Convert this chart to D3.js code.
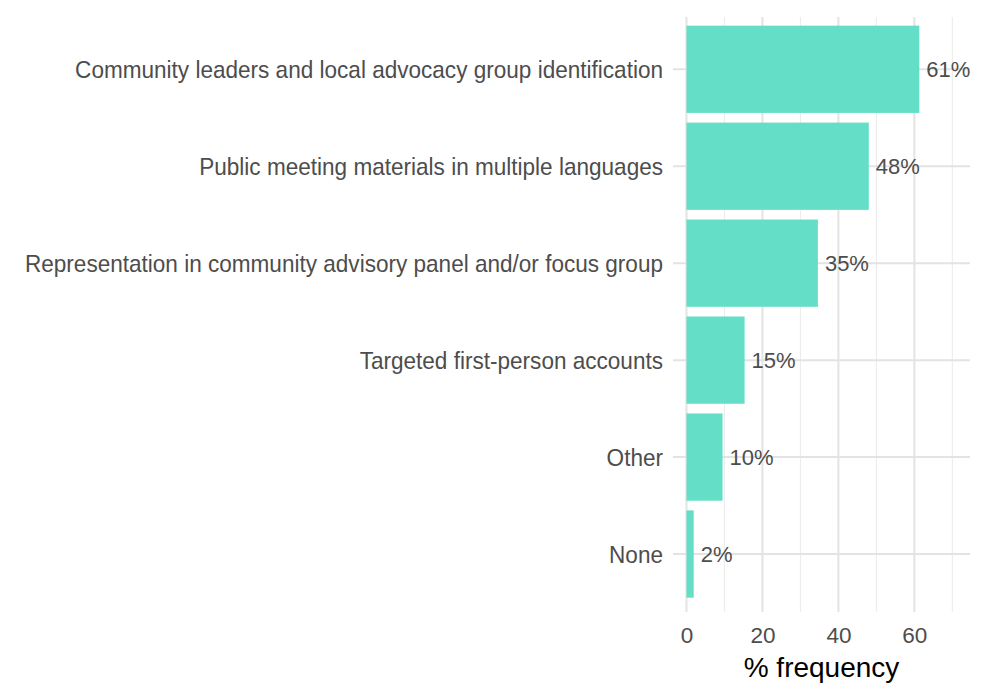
<!DOCTYPE html>
<html>
<head>
<meta charset="utf-8">
<script src="https://cdn.jsdelivr.net/npm/d3@7"></script>
<style>
  body { margin: 0; background: #fff; }
  text { font-family: "Liberation Sans", Arial, sans-serif; }
</style>
</head>
<body>
<div id="chart"></div>
<script>
// data
const categories = [
  "Community leaders and local advocacy group identification",
  "Public meeting materials in multiple languages",
  "Representation in community advisory panel and/or focus group",
  "Targeted first-person accounts",
  "Other",
  "None"
];
const values = [61.3, 48.0, 34.6, 15.3, 9.5, 1.9];
const valueLabels = ["61%", "48%", "35%", "15%", "10%", "2%"];
const xTicks = [0, 20, 40, 60];
const xMinorTicks = [10, 30, 50, 70];

const width = 982;
const height = 685;
const panel = { left: 673, right: 970, top: 17, bottom: 612 };

const svg = d3
  .select("#chart")
  .append("svg")
  .attr("width", width)
  .attr("height", height);

const x = d3
  .scaleLinear()
  .domain([-3.55, 74.65])
  .range([panel.left, panel.right]);

const y = d3
  .scaleBand()
  .domain(categories)
  .range([20.8, 602.5])
  .paddingInner(0.1)
  .paddingOuter(0.05);

const grid = svg.append("g").attr("class", "grid");

// minor vertical gridlines
grid
  .selectAll("line.minor")
  .data(xMinorTicks)
  .join("line")
  .attr("class", "minor")
  .attr("x1", d => x(d))
  .attr("x2", d => x(d))
  .attr("y1", panel.top)
  .attr("y2", panel.bottom)
  .attr("stroke", "#ececec")
  .attr("stroke-width", 1.1);

// major vertical gridlines
grid
  .selectAll("line.major")
  .data(xTicks)
  .join("line")
  .attr("class", "major")
  .attr("x1", d => x(d))
  .attr("x2", d => x(d))
  .attr("y1", panel.top)
  .attr("y2", panel.bottom)
  .attr("stroke", "#e3e3e3")
  .attr("stroke-width", 2);

// horizontal gridlines at category centres
grid
  .selectAll("line.hgrid")
  .data(categories)
  .join("line")
  .attr("class", "hgrid")
  .attr("x1", panel.left)
  .attr("x2", panel.right)
  .attr("y1", d => y(d) + y.bandwidth() / 2)
  .attr("y2", d => y(d) + y.bandwidth() / 2)
  .attr("stroke", "#e3e3e3")
  .attr("stroke-width", 2);

// bars
svg
  .append("g")
  .selectAll("rect")
  .data(categories)
  .join("rect")
  .attr("x", x(0))
  .attr("y", d => y(d))
  .attr("width", (d, i) => x(values[i]) - x(0))
  .attr("height", y.bandwidth())
  .attr("fill", "#64dec6");

// value labels
svg
  .append("g")
  .selectAll("text")
  .data(categories)
  .join("text")
  .attr("x", (d, i) => x(values[i]) + 7)
  .attr("y", d => y(d) + y.bandwidth() / 2)
  .attr("dy", "0.36em")
  .attr("font-size", 22)
  .attr("fill", "#4d4d4d")
  .text((d, i) => valueLabels[i]);

// category axis labels (slightly condensed like the original)
svg
  .append("g")
  .selectAll("text")
  .data(categories)
  .join("text")
  .attr("transform", d => `translate(${panel.left - 10}, ${y(d) + y.bandwidth() / 2}) scale(0.94, 1)`)
  .attr("dy", "0.36em")
  .attr("text-anchor", "end")
  .attr("font-size", 24)
  .attr("fill", "#4d4d4d")
  .text(d => d);

// x axis tick labels
const xAxis = d3.axisBottom(x).tickValues(xTicks).tickSize(0).tickPadding(0);
const ax = svg
  .append("g")
  .attr("transform", `translate(0, ${panel.bottom})`)
  .call(xAxis);
ax.select(".domain").remove();
ax.selectAll("text")
  .attr("y", 31)
  .attr("dy", 0)
  .attr("font-size", 22.5)
  .attr("font-family", "Liberation Sans, Arial, sans-serif")
  .attr("fill", "#4d4d4d");

// axis title
svg
  .append("text")
  .attr("x", (panel.left + panel.right) / 2)
  .attr("y", 677)
  .attr("text-anchor", "middle")
  .attr("font-size", 28)
  .attr("fill", "#000")
  .text("% frequency");
</script>
</body>
</html>
